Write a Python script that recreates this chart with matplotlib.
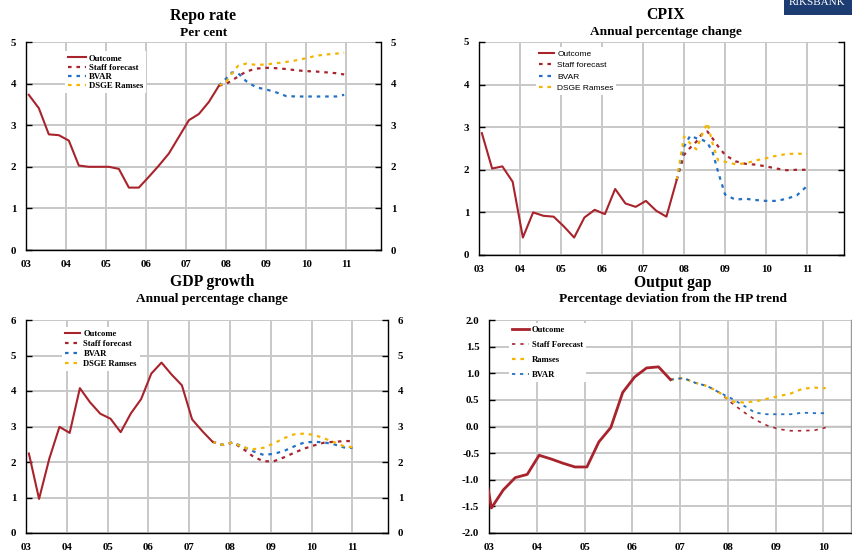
import matplotlib
matplotlib.use('Agg')
import matplotlib.pyplot as plt
from matplotlib.patches import Rectangle

plt.rcParams['axes.unicode_minus'] = False

RED = '#A8232B'
BLUE = '#2370C4'
ORANGE = '#F4B400'
GRID = '#C8C8C8'
SERIF = 'Liberation Serif'
SANS = 'Liberation Sans'

# ---------------- data ----------------
years = [2003, 2004, 2005, 2006, 2007, 2008, 2009, 2010, 2011]
year_labels = ['03', '04', '05', '06', '07', '08', '09', '10', '11']

# Repo rate
repo_out_x = [2003.07 + 0.25 * i for i in range(20)]
repo_out = [3.73, 3.41, 2.78, 2.76, 2.63, 2.03, 2.00, 2.00, 2.00, 1.95,
            1.50, 1.50, 1.76, 2.03, 2.32, 2.72, 3.12, 3.27, 3.56, 3.95]
repo_fc_x = [2007.82, 2008.0, 2008.15, 2008.3, 2008.5, 2008.75, 2009.0, 2009.25,
             2009.5, 2009.75, 2010.0, 2010.25, 2010.5, 2010.75, 2010.95]
repo_staff = [3.95, 3.99, 4.08, 4.17, 4.29, 4.36, 4.38, 4.37, 4.35, 4.32, 4.30, 4.29, 4.27, 4.25, 4.22]
repo_bvar = [3.95, 4.12, 4.27, 4.25, 4.06, 3.91, 3.86, 3.79, 3.70, 3.69, 3.69, 3.69, 3.69, 3.69, 3.73]
repo_dsge = [3.95, 4.04, 4.25, 4.43, 4.48, 4.45, 4.46, 4.49, 4.52, 4.56, 4.61, 4.67, 4.70, 4.72, 4.74]

# CPIX
cpix_out_x = [2003.07 + 0.25 * i for i in range(20)]
cpix_out = [2.86, 2.03, 2.08, 1.72, 0.41, 1.00, 0.92, 0.90, 0.67, 0.41,
            0.88, 1.06, 0.96, 1.55, 1.21, 1.13, 1.27, 1.04, 0.90, 1.76]
cpix_fc_x = [2007.82, 2008.0, 2008.15, 2008.3, 2008.45, 2008.57, 2008.7, 2008.83, 2009.0,
             2009.25, 2009.5, 2009.75, 2010.0, 2010.25, 2010.5, 2010.75, 2011.0]
cpix_staff = [1.76, 2.35, 2.52, 2.66, 2.86, 2.90, 2.73, 2.55, 2.35, 2.20, 2.14, 2.12, 2.08, 2.03, 1.99, 2.00, 2.00]
cpix_bvar = [1.76, 2.55, 2.80, 2.74, 2.70, 2.64, 2.40, 1.95, 1.42, 1.30, 1.32, 1.29, 1.27, 1.27, 1.32, 1.40, 1.62]
cpix_dsge = [1.76, 2.78, 2.62, 2.48, 2.85, 3.10, 2.60, 2.22, 2.19, 2.13, 2.15, 2.22, 2.27, 2.33, 2.37, 2.38, 2.37]

# GDP growth
gdp_out_x = [2003.07 + 0.25 * i for i in range(19)]
gdp_out = [2.24, 0.96, 2.09, 2.99, 2.82, 4.08, 3.68, 3.36, 3.22, 2.84,
           3.37, 3.77, 4.49, 4.80, 4.46, 4.16, 3.20, 2.87, 2.57]
gdp_fc_x = [2007.57, 2007.82, 2008.07, 2008.32, 2008.57, 2008.82, 2009.07, 2009.32,
            2009.57, 2009.82, 2010.07, 2010.32, 2010.57, 2010.82, 2011.0]
gdp_staff = [2.57, 2.48, 2.55, 2.37, 2.15, 2.02, 2.02, 2.13, 2.26, 2.38, 2.47, 2.55, 2.57, 2.59, 2.59]
gdp_bvar = [2.57, 2.48, 2.55, 2.43, 2.30, 2.20, 2.23, 2.31, 2.44, 2.55, 2.57, 2.55, 2.49, 2.40, 2.40]
gdp_dsge = [2.57, 2.48, 2.55, 2.41, 2.36, 2.40, 2.52, 2.67, 2.78, 2.80, 2.76, 2.66, 2.55, 2.43, 2.42]

# Output gap
gap_out_x = [2002.8 + 0.25 * i for i in range(17)]
gap_out = [-0.20, -1.53, -1.19, -0.96, -0.90, -0.54, -0.61, -0.69, -0.76, -0.76,
           -0.29, -0.02, 0.64, 0.93, 1.10, 1.12, 0.88]
gap_fc_x = [2006.80, 2007.07, 2007.32, 2007.57, 2007.82, 2008.07, 2008.32, 2008.57,
            2008.82, 2009.07, 2009.32, 2009.57, 2009.82, 2010.05]
gap_staff = [0.88, 0.91, 0.82, 0.76, 0.64, 0.45, 0.28, 0.13, 0.02, -0.05, -0.08, -0.08, -0.07, -0.02]
gap_ramses = [0.88, 0.91, 0.82, 0.76, 0.64, 0.47, 0.45, 0.47, 0.52, 0.57, 0.62, 0.71, 0.73, 0.72]
gap_bvar = [0.88, 0.91, 0.82, 0.76, 0.64, 0.53, 0.40, 0.26, 0.23, 0.23, 0.23, 0.26, 0.25, 0.25]
gap_yticks = [-2.0, -1.5, -1.0, -0.5, 0.0, 0.5, 1.0, 1.5, 2.0]
gap_ylabels = ['-2.0', '-1.5', '-1.0', '-0.5', '0.0', '0.5', '1.0', '1.5', '2.0']

# ---------------- figure ----------------
fig = plt.figure(figsize=(8.52, 5.52), dpi=100)

W, H = 852.0, 552.0


def box(l, r, t, b):
    return [l / W, 1 - b / H, (r - l) / W, (b - t) / H]


ax1 = fig.add_axes(box(26, 381, 42, 250))
ax2 = fig.add_axes(box(479, 844, 42, 255))
ax3 = fig.add_axes(box(26, 388, 320, 533))
ax4 = fig.add_axes(box(489, 851, 320, 533))

tick_font = dict(family=SERIF, weight='bold', size=7.8)


def setup(ax, xlim, ylim, yticks, ylabels, right_labels=True, xticks=years, xlabels=year_labels):
    ax.set_xlim(*xlim)
    ax.set_ylim(*ylim)
    ax.set_xticks(xticks)
    ax.set_xticklabels(xlabels, **tick_font)
    ax.set_yticks(yticks)
    ax.set_yticklabels(ylabels, **tick_font)
    ax.grid(True, color=GRID, lw=1.4)
    ax.set_axisbelow(True)
    ax.spines['top'].set_visible(False)
    for s in ['left', 'right', 'bottom']:
        ax.spines[s].set_color('black')
        ax.spines[s].set_linewidth(1.0)
    ax.tick_params(axis='y', direction='in', length=4, width=1, left=True, right=True,
                   labelleft=True, labelright=right_labels, pad=7)
    ax.tick_params(axis='x', length=0, pad=7)


dash = (0, (1.6, 2.2))

# Panel 1: Repo rate
setup(ax1, (2003, 2011.87), (0, 5), [0, 1, 2, 3, 4, 5], ['0', '1', '2', '3', '4', '5'])
l_out, = ax1.plot(repo_out_x, repo_out, color=RED, lw=1.5, zorder=5)
l_st, = ax1.plot(repo_fc_x, repo_staff, color=RED, lw=1.6, linestyle=dash, zorder=4)
l_bv, = ax1.plot(repo_fc_x, repo_bvar, color=BLUE, lw=1.6, linestyle=dash, zorder=4)
l_ds, = ax1.plot(repo_fc_x, repo_dsge, color=ORANGE, lw=1.6, linestyle=dash, zorder=4)

# Panel 2: CPIX
setup(ax2, (2003, 2011.9), (0, 5), [0, 1, 2, 3, 4, 5], ['0', '1', '2', '3', '4', '5'])
ax2.tick_params(axis='y', which='both', labelright=True)
for lab in ax2.get_yticklabels(which='major'):
    pass
ax2.yaxis.set_tick_params(pad=7)
# right-hand labels of the CPIX panel sit closer to the spine (cut by the image edge)
for t in ax2.yaxis.get_major_ticks():
    t.label2.set_x(1.0)
    t.set_pad(7)
m_out, = ax2.plot(cpix_out_x, cpix_out, color=RED, lw=1.5, zorder=5)
m_st, = ax2.plot(cpix_fc_x, cpix_staff, color=RED, lw=1.6, linestyle=dash, zorder=4)
m_bv, = ax2.plot(cpix_fc_x, cpix_bvar, color=BLUE, lw=1.6, linestyle=dash, zorder=4)
m_ds, = ax2.plot(cpix_fc_x, cpix_dsge, color=ORANGE, lw=1.6, linestyle=dash, zorder=4)

# Panel 3: GDP growth
setup(ax3, (2003, 2011.87), (0, 6), [0, 1, 2, 3, 4, 5, 6], ['0', '1', '2', '3', '4', '5', '6'])
n_out, = ax3.plot(gdp_out_x, gdp_out, color=RED, lw=1.5, zorder=5)
n_st, = ax3.plot(gdp_fc_x, gdp_staff, color=RED, lw=1.6, linestyle=dash, zorder=4)
n_bv, = ax3.plot(gdp_fc_x, gdp_bvar, color=BLUE, lw=1.6, linestyle=dash, zorder=4)
n_ds, = ax3.plot(gdp_fc_x, gdp_dsge, color=ORANGE, lw=1.6, linestyle=dash, zorder=4)

# Panel 4: Output gap
setup(ax4, (2003, 2010.58), (-2, 2), gap_yticks, gap_ylabels, right_labels=False,
      xticks=years[:8], xlabels=year_labels[:8])
ax4.spines['right'].set_color('#999999')
ax4.tick_params(axis='y', right=False)
o_out, = ax4.plot(gap_out_x, gap_out, color=RED, lw=2.0, zorder=5)
o_st, = ax4.plot(gap_fc_x, gap_staff, color=RED, lw=1.2, linestyle=(0, (2.0, 3.0)), zorder=4)
o_ra, = ax4.plot(gap_fc_x, gap_ramses, color=ORANGE, lw=1.6, linestyle=(0, (1.6, 2.2)), zorder=4)
o_bv, = ax4.plot(gap_fc_x, gap_bvar, color=BLUE, lw=1.3, linestyle=(0, (1.8, 2.6)), zorder=4)
zero = ax4.secondary_xaxis(0.5)
zero.set_xticks(years[1:8])
zero.set_xticklabels([])
zero.tick_params(axis='x', direction='inout', length=5, width=1.2, color='#333333')
zero.spines['bottom'].set_color('black')
zero.spines['bottom'].set_linewidth(1.0)

# ---------------- legends ----------------
leg_common = dict(loc='upper left', frameon=True, facecolor='white', edgecolor='none',
                  framealpha=1, fancybox=False, borderaxespad=0, handletextpad=0.35)

lg = ax1.legend([l_out, l_st, l_bv, l_ds], ['Outcome', 'Staff forecast', 'BVAR', 'DSGE Ramses'],
                bbox_to_anchor=(0.11, 0.955), handlelength=2.0, labelspacing=0.12, borderpad=0.35,
                prop=dict(family=SERIF, weight='bold', size=6.3), **leg_common)
lg.set_zorder(10)
lg = ax2.legend([m_out, m_st, m_bv, m_ds], ['Outcome', 'Staff forecast', 'BVAR', 'DSGE Ramses'],
                bbox_to_anchor=(0.157, 0.977), handlelength=1.8, labelspacing=0.45, borderpad=0.35,
                prop=dict(family=SANS, size=6.0), **leg_common)
lg.set_zorder(10)
lg = ax3.legend([n_out, n_st, n_bv, n_ds], ['Outcome', 'Staff forecast', 'BVAR', 'DSGE Ramses'],
                bbox_to_anchor=(0.099, 0.965), handlelength=1.8, labelspacing=0.2, borderpad=0.35,
                prop=dict(family=SERIF, weight='bold', size=6.2), **leg_common)
lg.set_zorder(10)
lg = ax4.legend([o_out, o_st, o_ra, o_bv], ['Outcome', 'Staff Forecast', 'Ramses', 'BVAR'],
                bbox_to_anchor=(0.054, 0.986), handlelength=2.0, labelspacing=0.8, borderpad=0.35,
                prop=dict(family=SERIF, weight='bold', size=6.2), **leg_common)
lg.set_zorder(10)

# ---------------- titles ----------------
title_font = dict(family=SERIF, weight='bold', ha='center', va='center')
fig.text(203.5 / W, 1 - 16 / H, 'Repo rate', size=11.3, **title_font)
fig.text(203.5 / W, 1 - 32.5 / H, 'Per cent', size=9.6, **title_font)
fig.text(666 / W, 1 - 15 / H, 'CPIX', size=11.3, **title_font)
fig.text(666 / W, 1 - 32.5 / H, 'Annual percentage change', size=9.6, **title_font)
fig.text(212 / W, 1 - 282 / H, 'GDP growth', size=11.3, **title_font)
fig.text(212 / W, 1 - 299.3 / H, 'Annual percentage change', size=9.6, **title_font)
fig.text(673 / W, 1 - 283.3 / H, 'Output gap', size=11.3, **title_font)
fig.text(673 / W, 1 - 299.3 / H, 'Percentage deviation from the HP trend', size=9.6, **title_font)

# Riksbank logo strip (top right corner)
fig.patches.append(Rectangle((784 / W, 1 - 15 / H), (852 - 784) / W, 15 / H,
                             transform=fig.transFigure, facecolor='#1D3D72', edgecolor='none'))
fig.text(817 / W, 1 - 5 / H, 'RIKSBANK', color='white', family=SERIF, size=8,
         ha='center', va='baseline')

fig.savefig('out.png', dpi=100)
